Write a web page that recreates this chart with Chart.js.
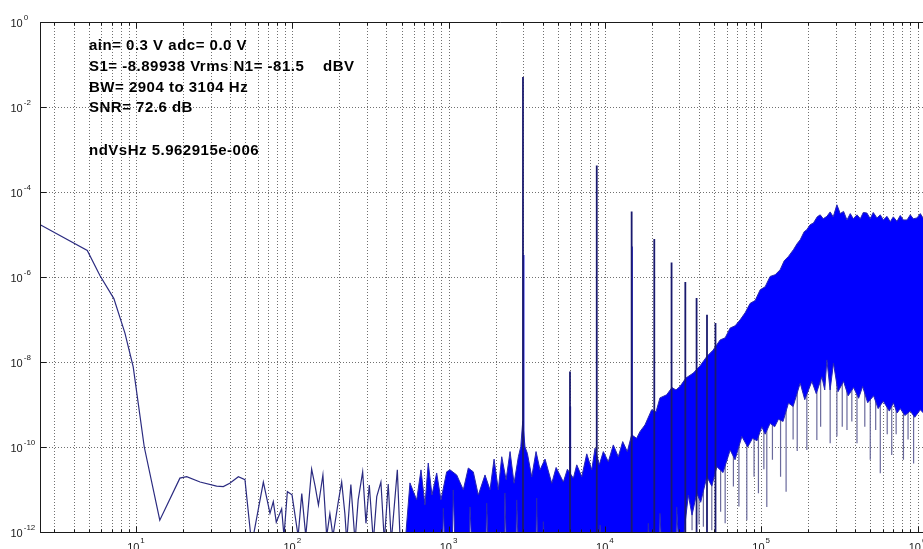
<!DOCTYPE html>
<html>
<head>
<meta charset="utf-8">
<style>
html,body{margin:0;padding:0;background:#fff;overflow:hidden;width:923px;height:549px;}
#wrap{position:relative;width:960px;height:549px;}
canvas{display:block;}
</style>
<script src="https://cdn.jsdelivr.net/npm/chart.js@4.4.0/dist/chart.umd.min.js"></script>
</head>
<body>
<div id="wrap"><canvas id="c" width="960" height="549"></canvas></div>
<script>
// ---- data ----
const lowFreq = [2.44, 4.88, 5.89, 7.22, 8.5, 9.6, 11.3, 14.2, 19.1, 21.1, 25.7, 32.8, 36.2, 39.8, 45.2, 49.8, 55, 65.3, 72, 75.6, 79, 85.5, 88.5, 93, 99.6, 109, 115, 122, 133, 140, 147, 157, 166, 174, 182, 197, 207, 217, 223, 237, 252, 264, 282, 296, 311, 330, 347, 369, 388, 411, 430, 470, 490];
const lowVal = [1.7e-5, 4.2e-6, 1.07e-6, 3.1e-7, 4.8e-8, 7.7e-9, 1.0e-10, 1.9e-12, 1.85e-11, 2.0e-11, 1.5e-11, 1.2e-11, 1.17e-11, 1.4e-11, 2.0e-11, 1.7e-11, 5e-13, 1.5e-11, 2.75e-12, 5.2e-12, 1.7e-12, 3.5e-12, 8e-13, 8.9e-12, 7.5e-12, 8e-13, 8e-12, 8e-13, 3e-11, 1.2e-11, 4.3e-12, 2.2e-11, 8e-13, 2.7e-12, 8e-13, 5.2e-12, 1.5e-11, 2.7e-12, 6e-13, 1.3e-11, 6e-13, 5.7e-12, 2.6e-11, 1.6e-12, 1.28e-11, 6e-13, 6.8e-12, 1.5e-11, 6e-13, 1.35e-11, 6e-13, 2.9e-11, 6e-13];

const bandFreq = [526, 566, 625, 666, 706, 741, 783, 839, 894, 972, 1021, 1127, 1242, 1337, 1439, 1549, 1710, 1841, 1954, 2080, 2188, 2333, 2473, 2623, 2795, 2897, 2980, 3083, 3191, 3404, 3626, 3846, 4140, 4571, 4875, 5424, 5754, 6284, 6607, 7112, 7656, 8241, 8650, 9209, 9772, 10518, 11320, 12180, 13000, 13910, 14830, 15960, 16760, 18040, 18870, 19910, 21230, 22500, 24830, 26850, 28500, 30200, 33000, 36800, 40600, 44900, 49200, 54600, 58800, 63300, 68100, 73300, 78900, 85000, 91500, 98500, 106000, 114000, 122800, 132200, 140300, 149400, 160800, 169900, 177600, 188300, 195900, 205700, 216000, 228200, 238500, 249400, 263100, 276200, 289000, 305000, 320400, 336500, 353800, 371500, 388300, 410000, 430700, 450000, 474500, 498500, 521000, 550400, 577900, 604000, 638000, 669500, 700000, 739000, 776000, 811000, 857000, 899000, 940000, 993000, 1042000, 1122000, 1870000];
const bandTop = [5e-13, 1.43e-11, 5.7e-12, 2.9e-11, 4.3e-12, 4.2e-11, 7.4e-12, 2.45e-11, 5.7e-12, 2.6e-11, 2.9e-11, 2.2e-11, 9.8e-12, 3.2e-11, 2.6e-11, 7.4e-12, 2.2e-11, 9.8e-12, 5.2e-11, 9.8e-12, 5.9e-11, 1.7e-11, 7.8e-11, 1.4e-11, 5.9e-11, 1.02e-10, 4.0e-10, 1.0e-10, 7.1e-11, 2.0e-11, 7.8e-11, 2.9e-11, 5.2e-11, 1.4e-11, 3.3e-11, 1.5e-11, 3.0e-11, 1.84e-11, 3.8e-11, 2.0e-11, 6.9e-11, 2.9e-11, 9.4e-11, 3.8e-11, 7.8e-11, 4.5e-11, 1.12e-10, 5.9e-11, 1.34e-10, 7.8e-11, 1.93e-10, 1.6e-10, 2.3e-10, 3.3e-10, 4.8e-10, 7.5e-10, 6.7e-10, 1.43e-9, 1.69e-9, 2.5e-9, 2.2e-9, 2.65e-9, 4.2e-9, 5.5e-9, 8.1e-9, 1.35e-8, 1.9e-8, 3.3e-8, 3.7e-8, 6.3e-8, 7.1e-8, 9.8e-8, 1.44e-7, 2.4e-7, 2.8e-7, 5.0e-7, 5.9e-7, 1.03e-6, 1.13e-6, 1.48e-6, 2.4e-6, 3.05e-6, 4.4e-6, 6.1e-6, 7.5e-6, 1.16e-5, 1.3e-5, 1.7e-5, 1.87e-5, 2.6e-5, 2.9e-5, 2.35e-5, 2.67e-5, 3.4e-5, 2.6e-5, 5.0e-5, 3.1e-5, 3.5e-5, 2.2e-5, 3.1e-5, 2.35e-5, 2.9e-5, 2.35e-5, 3.3e-5, 3.2e-5, 2.35e-5, 3.3e-5, 2.45e-5, 2.9e-5, 2.2e-5, 2.67e-5, 2.0e-5, 2.6e-5, 2.04e-5, 2.8e-5, 2.2e-5, 2.2e-5, 2.9e-5, 2.35e-5, 2.45e-5, 3.1e-5, 2.0e-5, 2.5e-5];

const floorFreq = [526, 910, 925, 964, 1050, 1071, 1114, 1350, 1371, 1432, 1720, 1753, 1812, 2260, 2293, 2361, 2680, 2728, 2820, 3600, 3660, 3740, 3990, 4038, 4204, 9200, 9311, 9730, 18600, 18950, 19720, 22200, 22500, 23530, 28300, 28800, 30200, 32500, 34190, 36100, 38660, 41000, 44900, 48300, 52000, 57000, 63300, 68000, 75200, 82000, 88000, 94000, 100900, 106000, 114000, 122000, 128900, 138000, 149400, 160000, 177600, 190000, 210900, 225000, 244400, 255000, 263100, 276000, 290000, 310000, 336500, 360000, 390000, 420000, 445600, 480000, 524000, 560000, 604000, 660000, 701000, 740000, 776000, 830000, 899000, 960000, 1042000, 1122000, 1870000];
const floorVal = [1e-13, 1e-13, 3.6e-12, 1e-13, 1e-13, 9.8e-12, 1e-13, 1e-13, 3.9e-12, 1e-13, 1e-13, 4.8e-12, 1e-13, 1e-13, 8.3e-12, 1e-13, 1e-13, 5.7e-12, 1e-13, 1e-13, 6.3e-12, 1e-13, 1e-13, 1.75e-12, 1e-13, 1e-13, 1.47e-12, 1e-13, 1e-13, 1.6e-12, 1e-13, 1e-13, 2.76e-12, 1e-13, 1e-13, 3.9e-12, 1e-13, 1.5e-12, 7.4e-12, 2.5e-12, 8.2e-12, 5e-12, 2.0e-11, 1.2e-11, 3.45e-11, 2.5e-11, 8.5e-11, 5e-11, 1.76e-10, 1.0e-10, 1.6e-10, 1.4e-10, 3.0e-10, 2.0e-10, 3.6e-10, 3.0e-10, 4.5e-10, 4.0e-10, 1.08e-9, 9e-10, 3.2e-9, 1.3e-9, 3.5e-9, 1.8e-9, 4.5e-9, 2.2e-9, 1.12e-8, 2.2e-9, 9.4e-9, 2e-9, 3.5e-9, 1.6e-9, 2.5e-9, 1.4e-9, 2.65e-9, 1.1e-9, 1.6e-9, 8e-10, 1.2e-9, 7e-10, 1.1e-9, 6.3e-10, 8e-10, 5.5e-10, 7e-10, 5e-10, 7.5e-10, 5.7e-10, 5e-10];

// grey lines hanging below the noise band
const dropFreq = [32520, 36100, 40000, 42660, 48300, 55000, 58800, 66400, 72000, 80900, 90000, 96000, 104000, 108600, 118000, 133000, 144300, 160000, 170000, 195900, 227000, 240000, 276200, 305000, 330000, 353800, 380000, 410000, 460000, 498500, 540000, 577900, 640000, 684000, 730000, 813000, 870000, 944000];
const dropLow = [1.1e-12, 1.1e-12, 1.5e-12, 1.33e-12, 1.1e-12, 3e-12, 1.6e-12, 1.17e-11, 4e-12, 1.9e-12, 2e-11, 8.2e-12, 3e-11, 3.9e-12, 5e-11, 2e-11, 8.9e-12, 1.5e-10, 8e-11, 8.5e-11, 1.47e-10, 3e-10, 1.23e-10, 1.76e-10, 3e-10, 2.5e-10, 4e-10, 1.23e-10, 3e-10, 5.0e-11, 2.5e-10, 2.4e-11, 2e-10, 6.5e-11, 2e-10, 5.0e-11, 1.5e-10, 4.1e-11];
const dropTop = [1e-10, 1e-10, 1e-10, 1e-10, 1e-10, 1e-9, 1e-9, 1e-9, 1e-9, 1e-9, 1e-9, 1e-9, 1e-8, 1e-8, 1e-8, 1e-8, 1e-8, 1e-8, 1e-8, 1e-8, 1e-8, 1e-8, 1e-8, 1e-8, 1e-8, 1e-8, 1e-8, 1e-8, 1e-8, 1e-8, 1e-8, 1e-8, 1e-8, 1e-8, 1e-8, 1e-8, 1e-8, 1e-8];

const harmFreq = [2992, 5980, 8870, 14830, 20700, 26700, 32700, 38600, 45000, 51000];
const harmTop = [5.1e-2, 6.0e-9, 4.2e-4, 3.5e-5, 7.8e-6, 2.2e-6, 7.6e-7, 3.2e-7, 1.3e-7, 8.3e-8];
const binFreq = [3020, 6010, 14900];
const binTop = [3.3e-6, 9e-10, 5.2e-6];
const spikeBase = 1e-13;

const xTickExps = [1, 2, 3, 4, 5, 6];
const yTickExps = [0, -2, -4, -6, -8, -10, -12];
const xGridMant = [1, 2, 3, 4, 5, 6, 7, 8, 9];
const xGridExps = [0, 1, 2, 3, 4, 5, 6];

const notes = [
  'ain= 0.3 V adc= 0.0 V',
  'S1= -8.89938 Vrms N1= -81.5    dBV',
  'BW= 2904 to 3104 Hz',
  'SNR= 72.6 dB',
  '',
  'ndVsHz 5.962915e-006'
];

const xMin = 2.432, xMax = 1.87e6, yMin = 1e-12, yMax = 1;

// ---- build ----
const pts = (fs, vs) => fs.map((f, i) => ({x: f, y: vs[i]}));
const datasets = [
  {label: 'floor', order: 2, data: pts(floorFreq, floorVal), borderColor: '#2626b8', borderWidth: 1, pointRadius: 0, fill: false},
  {label: 'band', order: 2, data: pts(bandFreq, bandTop), borderColor: '#2828b0', borderWidth: 1, pointRadius: 0, fill: '-1', backgroundColor: '#0000ff'},
  {label: 'trace', order: 1, data: pts(lowFreq, lowVal), borderColor: '#2b2b80', borderWidth: 1.2, pointRadius: 0, fill: false}
];
harmFreq.forEach((f, i) => datasets.push({
  label: 'h' + i, order: 0, data: [{x: f, y: harmTop[i]}, {x: f, y: spikeBase}],
  borderColor: '#1a1a6e', borderWidth: 1.8, pointRadius: 0, fill: false
}));
binFreq.forEach((f, i) => datasets.push({
  label: 'b' + i, order: 0, data: [{x: f, y: binTop[i]}, {x: f, y: spikeBase}],
  borderColor: '#0a0ae0', borderWidth: 1.6, pointRadius: 0, fill: false
}));
dropFreq.forEach((f, i) => datasets.push({
  label: 'd' + i, order: 3, data: [{x: f, y: dropTop[i]}, {x: f, y: dropLow[i]}],
  borderColor: '#6a6a9c', borderWidth: 1.2, pointRadius: 0, fill: false
}));

const xGridVals = [];
xGridExps.forEach(e => xGridMant.forEach(m => {
  const v = m * Math.pow(10, e);
  if (v > xMin && v < xMax) xGridVals.push(v);
}));
const yGridVals = yTickExps.map(e => Math.pow(10, e));

const decor = {
  id: 'decor',
  beforeDatasetsDraw(chart) {
    const {ctx, chartArea: ca, scales: {x: xs, y: ys}} = chart;
    ctx.save();
    ctx.strokeStyle = '#707070';
    ctx.lineWidth = 1;
    ctx.setLineDash([1, 2]);
    ctx.beginPath();
    xGridVals.forEach(v => {
      const p = Math.round(xs.getPixelForValue(v)) + 0.5;
      ctx.moveTo(p, ca.top); ctx.lineTo(p, ca.bottom);
    });
    yGridVals.forEach(v => {
      const p = Math.round(ys.getPixelForValue(v)) + 0.5;
      ctx.moveTo(ca.left, p); ctx.lineTo(ca.right, p);
    });
    ctx.stroke();
    ctx.restore();
  },
  afterDraw(chart) {
    const {ctx, chartArea: ca, scales: {x: xs, y: ys}} = chart;
    ctx.save();
    const L = Math.round(ca.left) + 0.5, B = Math.round(ca.bottom) + 0.5, T = Math.round(ca.top) + 0.5;
    ctx.strokeStyle = '#1a1a1a';
    ctx.lineWidth = 1;
    ctx.setLineDash([]);
    ctx.beginPath();
    ctx.moveTo(L, T); ctx.lineTo(ca.right + 2, T);
    ctx.moveTo(L, T); ctx.lineTo(L, B);
    ctx.moveTo(L, B); ctx.lineTo(ca.right + 2, B);
    xGridVals.forEach(v => {
      const p = Math.round(xs.getPixelForValue(v)) + 0.5;
      const major = Math.abs(Math.log10(v) - Math.round(Math.log10(v))) < 1e-9;
      const len = major ? 6 : 3;
      ctx.moveTo(p, B); ctx.lineTo(p, B - len);
      ctx.moveTo(p, T); ctx.lineTo(p, T + len);
    });
    yGridVals.forEach(v => {
      const p = Math.round(ys.getPixelForValue(v)) + 0.5;
      ctx.moveTo(L, p); ctx.lineTo(L + 6, p);
    });
    ctx.stroke();

    ctx.fillStyle = '#1a1a1a';
    ctx.textBaseline = 'alphabetic';
    ctx.textAlign = 'left';
    const baseFont = '11px "Liberation Sans", Arial, sans-serif';
    const expFont = '8px "Liberation Sans", Arial, sans-serif';
    yTickExps.forEach(e => {
      const p = ys.getPixelForValue(Math.pow(10, e));
      ctx.font = baseFont;
      const w = ctx.measureText('10').width;
      ctx.fillText('10', 10.5, p + 4.5);
      ctx.font = expFont;
      ctx.fillText(String(e), 10.5 + w + 1, p - 2.5);
    });
    xTickExps.forEach(e => {
      const p = xs.getPixelForValue(Math.pow(10, e));
      ctx.font = baseFont;
      const w = ctx.measureText('10').width;
      ctx.font = expFont;
      const we = ctx.measureText(String(e)).width;
      const x0 = p - (w + 1 + we) / 2;
      ctx.font = baseFont;
      ctx.fillText('10', x0, 550.5);
      ctx.font = expFont;
      ctx.fillText(String(e), x0 + w + 1, 543);
    });

    ctx.fillStyle = '#000';
    ctx.font = 'bold 15px "Liberation Sans", Arial, sans-serif';
    try { ctx.letterSpacing = '0.5px'; } catch (err) {}
    const baselines = [50, 70.7, 91.5, 112, 133, 155];
    notes.forEach((t, i) => { if (t) ctx.fillText(t, 89, baselines[i]); });
    ctx.restore();
  }
};

new Chart(document.getElementById('c'), {
  type: 'line',
  data: {datasets},
  options: {
    responsive: false,
    maintainAspectRatio: false,
    devicePixelRatio: 1,
    animation: false,
    layout: {padding: {top: 22, left: 0, right: 0, bottom: 0}},
    elements: {line: {tension: 0, borderJoinStyle: 'miter'}},
    plugins: {legend: {display: false}, tooltip: {enabled: false}},
    scales: {
      x: {
        type: 'logarithmic', min: xMin, max: xMax, bounds: 'data',
        grid: {display: false}, border: {display: false},
        ticks: {display: false},
        afterFit: s => { s.height = 17; }
      },
      y: {
        type: 'logarithmic', min: yMin, max: yMax, bounds: 'data',
        grid: {display: false}, border: {display: false},
        ticks: {display: false},
        afterFit: s => { s.width = 40; }
      }
    }
  },
  plugins: [decor]
});
</script>
</body>
</html>
